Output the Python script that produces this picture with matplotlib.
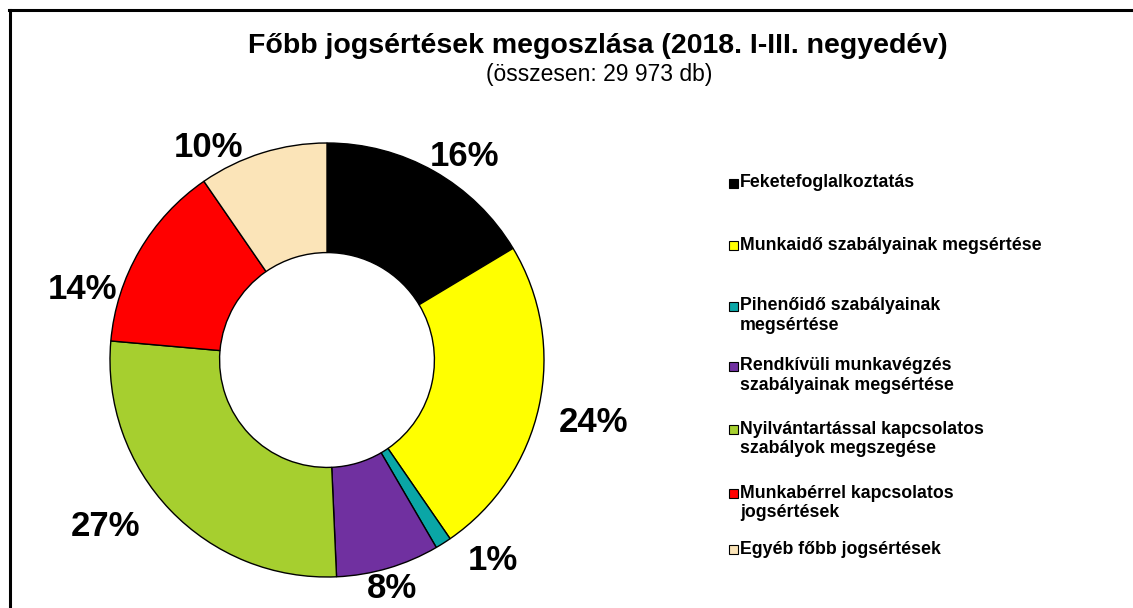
import matplotlib
matplotlib.use("Agg")
import matplotlib.pyplot as plt
from matplotlib.patches import Rectangle
from matplotlib.lines import Line2D

plt.rcParams['font.family'] = ['Liberation Sans', 'DejaVu Sans']

# ---- data ----
categories = [
    "Feketefoglalkoztatás",
    "Munkaidő szabályainak megsértése",
    "Pihenőidő szabályainak\nmegsértése",
    "Rendkívüli munkavégzés\nszabályainak megsértése",
    "Nyilvántartással kapcsolatos\nszabályok megszegése",
    "Munkabérrel kapcsolatos\njogsértések",
    "Egyéb főbb jogsértések",
]
shares = [16.4, 24.0, 1.2, 7.7, 27.1, 14.0, 9.6]
pct_labels = ["16%", "24%", "1%", "8%", "27%", "14%", "10%"]
colors = ["#000000", "#FFFF00", "#0AA6A6", "#7030A0", "#A6CF2F", "#FF0000", "#FBE4B8"]
title = "Főbb jogsértések megoszlása (2018. I-III. negyedév)"
subtitle = "(összesen: 29 973 db)"

# ---- layout ----
W, H = 1133, 608
fig = plt.figure(figsize=(W / 100, H / 100), dpi=100)
cx, cy, R = 327, 360, 217          # pie centre / radius in pixels
half = 1.45
size = 2 * half * R
ax = fig.add_axes([(cx - half * R) / W, (H - cy - half * R) / H, size / W, size / H])

wedges, _ = ax.pie(shares, colors=colors, startangle=90, counterclock=False,
                   radius=1.0, wedgeprops=dict(width=0.505, edgecolor='black', linewidth=1.0))
ax.set_xlim(-half, half)
ax.set_ylim(-half, half)
ax.set_aspect('equal')
ax.axis('off')

# percentage labels (pixel positions)
label_px = [(465, 157), (593, 423), (493, 561), (392, 589), (105, 527), (83, 290), (208, 148)]
for txt, (px, py) in zip(pct_labels, label_px):
    ax.text((px - cx) / R, (cy - py) / R, txt, ha='center', va='center',
            fontsize=25, fontweight='bold', color='black', clip_on=False)

# title
fig.text(598 / W, 1 - 46 / H, title, ha='center', va='center', fontsize=20.5, fontweight='bold')
fig.text(599 / W, 1 - 75 / H, subtitle, ha='center', va='center', fontsize=16.5)

# legend (manual, top-aligned entries)
leg_baselines = [190, 253, 313, 373, 436, 500, 556]
for cat, col, yb in zip(categories, colors, leg_baselines):
    fig.text(740 / W, 1 - (yb - 15.5) / H, cat, ha='left', va='top', fontsize=12.8,
             fontweight='bold', linespacing=1.2)
    sq = 9
    fig.patches.append(Rectangle(((733 - sq / 2) / W, 1 - (yb - 7 + sq / 2) / H), sq / W, sq / H,
                                 transform=fig.transFigure, facecolor=col,
                                 edgecolor='black', linewidth=0.8))

# frame (top and left)
fig.add_artist(Line2D([9.5 / W, 9.5 / W], [0, 1 - 10 / H], transform=fig.transFigure,
                      color='black', linewidth=2.2))
fig.add_artist(Line2D([8.5 / W, 1], [1 - 10 / H, 1 - 10 / H], transform=fig.transFigure,
                      color='black', linewidth=2.2))

fig.savefig("out.png", dpi=100)
